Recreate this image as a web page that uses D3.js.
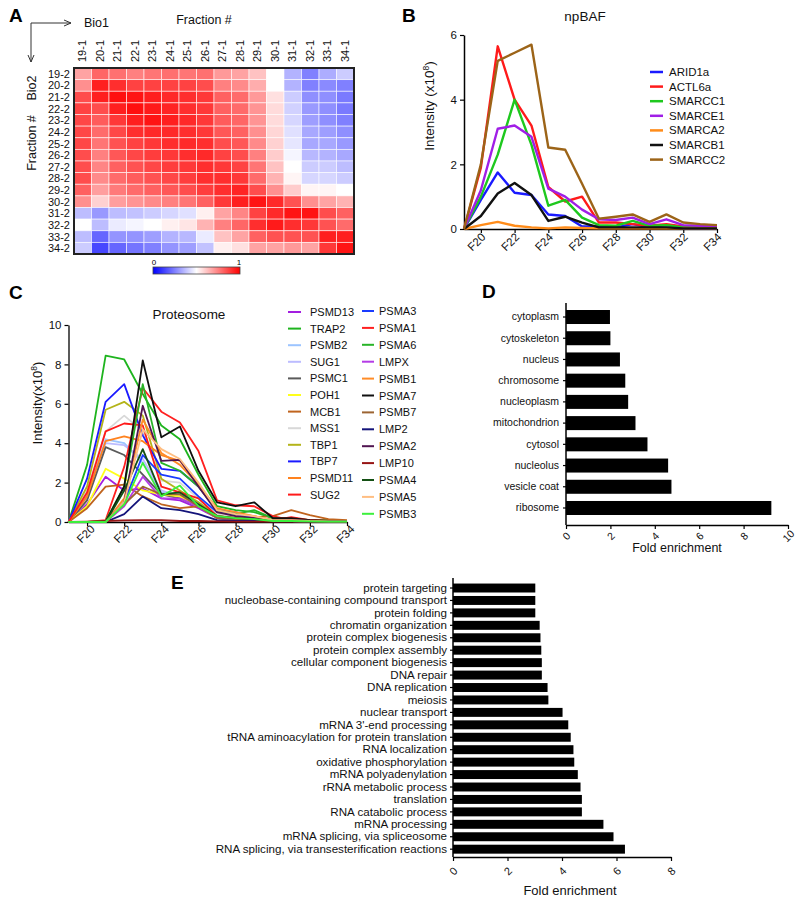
<!DOCTYPE html>
<html><head><meta charset="utf-8">
<script src="https://cdn.jsdelivr.net/npm/d3@7"></script>
<style>
body{margin:0;background:#fff}
svg{font-family:"Liberation Sans",Arial,Helvetica,sans-serif}
</style></head><body>
<svg id="fig" width="800" height="903"></svg>
<script>
// ---------- DATA ----------
const heatCols = ["19-1","20-1","21-1","22-1","23-1","24-1","25-1","26-1","27-1","28-1","29-1","30-1","31-1","32-1","33-1","34-1"];
const heatRows = ["19-2","20-2","21-2","22-2","23-2","24-2","25-2","26-2","27-2","28-2","29-2","30-2","31-2","32-2","33-2","34-2"];
const heatValues = [
 [0.68,0.80,0.78,0.75,0.77,0.78,0.77,0.78,0.70,0.68,0.62,0.50,0.35,0.25,0.34,0.40],
 [0.72,0.94,0.91,0.87,0.87,0.87,0.87,0.85,0.75,0.73,0.66,0.50,0.35,0.25,0.27,0.25],
 [0.85,0.94,0.97,0.96,0.94,0.92,0.91,0.89,0.81,0.79,0.70,0.56,0.40,0.28,0.28,0.24],
 [0.87,0.85,0.94,0.97,0.95,0.93,0.91,0.89,0.81,0.79,0.71,0.57,0.41,0.30,0.28,0.24],
 [0.86,0.82,0.89,0.94,0.96,0.94,0.92,0.89,0.82,0.80,0.71,0.57,0.42,0.31,0.28,0.25],
 [0.86,0.79,0.86,0.91,0.92,0.92,0.91,0.89,0.83,0.81,0.72,0.58,0.44,0.33,0.31,0.28],
 [0.86,0.77,0.84,0.87,0.89,0.91,0.92,0.91,0.85,0.83,0.73,0.59,0.45,0.33,0.33,0.30],
 [0.85,0.75,0.83,0.86,0.88,0.89,0.91,0.92,0.87,0.85,0.75,0.60,0.48,0.36,0.35,0.33],
 [0.85,0.74,0.81,0.84,0.86,0.88,0.89,0.91,0.89,0.87,0.77,0.62,0.50,0.40,0.40,0.37],
 [0.85,0.73,0.79,0.82,0.84,0.86,0.88,0.91,0.91,0.89,0.79,0.65,0.52,0.42,0.42,0.40],
 [0.81,0.69,0.76,0.79,0.81,0.83,0.85,0.88,0.91,0.93,0.85,0.72,0.60,0.52,0.52,0.50],
 [0.72,0.59,0.69,0.71,0.73,0.75,0.77,0.81,0.89,0.94,0.96,0.92,0.84,0.72,0.68,0.65],
 [0.37,0.30,0.37,0.38,0.40,0.42,0.44,0.53,0.68,0.74,0.87,0.92,0.96,0.96,0.85,0.81],
 [0.50,0.37,0.46,0.48,0.50,0.53,0.55,0.65,0.75,0.80,0.91,0.95,0.91,0.89,0.84,0.79],
 [0.37,0.20,0.29,0.29,0.31,0.35,0.36,0.46,0.62,0.68,0.81,0.84,0.84,0.84,0.94,0.94],
 [0.40,0.14,0.20,0.23,0.25,0.29,0.31,0.38,0.53,0.56,0.68,0.68,0.70,0.68,0.89,0.96]
];

const fractions = [19,20,21,22,23,24,25,26,27,28,29,30,31,32,33,34];
const fracTicks = [20,22,24,26,28,30,32,34];

const bafNames = ["ARID1a","ACTL6a","SMARCC1","SMARCE1","SMARCA2","SMARCB1","SMARCC2"];
const bafValues = [
 [0,0.90,1.75,1.12,1.05,0.45,0.40,0.08,0.08,0.05,0.15,0.05,0.12,0.02,0.02,0.02],
 [0,1.90,5.65,4.00,3.20,1.30,0.85,1.00,0.20,0.20,0.15,0.10,0.15,0.08,0.08,0.08],
 [0,1.00,2.30,4.00,2.60,0.72,0.90,0.35,0.12,0.10,0.25,0.10,0.12,0.05,0.05,0.05],
 [0,1.20,3.10,3.20,2.85,1.25,1.00,0.60,0.30,0.28,0.35,0.15,0.30,0.12,0.10,0.10],
 [0,0.12,0.22,0.10,0.05,0.02,0.05,0.03,0.02,0.02,0.02,0.02,0.02,0.02,0.02,0.02],
 [0,0.40,1.10,1.42,1.05,0.25,0.38,0.20,0.05,0.05,0.05,0.05,0.05,0.02,0.02,0.02],
 [0,2.00,5.20,5.45,5.70,2.52,2.45,1.40,0.32,0.38,0.45,0.22,0.45,0.20,0.15,0.12]
];
const bafTicks = [0,2,4,6];

const protNames = ["PSMD13","TRAP2","PSMB2","SUG1","PSMC1","POH1","MCB1","MSS1","TBP1","TBP7","PSMD11","SUG2",
 "PSMA3","PSMA1","PSMA6","LMPX","PSMB1","PSMA7","PSMB7","LMP2","PSMA2","LMP10","PSMA4","PSMA5","PSMB3"];
const protValues = [
 [0,0.9,2.3,1.6,1.7,1.2,1.1,0.7,0.2,0.15,0.1,0.05,0.05,0.03,0.02,0.02],
 [0,2.9,8.45,8.25,6.5,4.9,4.2,2.4,0.8,0.6,0.5,0.2,0.2,0.1,0.1,0.05],
 [0,1.4,4.2,4.0,3.0,1.5,1.4,1.0,0.3,0.2,0.1,0.05,0.05,0.03,0.02,0.02],
 [0,1.2,4.0,3.9,3.2,1.6,1.3,0.9,0.3,0.2,0.1,0.05,0.05,0.03,0.02,0.02],
 [0,1.1,3.8,3.4,2.4,1.4,1.2,0.8,0.2,0.15,0.1,0.05,0.05,0.03,0.02,0.02],
 [0,0.8,2.7,2.2,1.6,1.4,1.3,0.8,0.2,0.15,0.1,0.05,0.05,0.03,0.02,0.02],
 [0,0.7,1.8,1.9,1.3,0.9,0.7,0.8,0.4,0.3,0.25,0.3,0.6,0.35,0.15,0.1],
 [0,1.6,4.6,5.4,4.6,2.1,2.0,1.2,0.4,0.3,0.2,0.1,0.1,0.05,0.03,0.02],
 [0,1.8,5.7,6.1,5.4,2.2,1.6,1.0,0.3,0.2,0.1,0.05,0.05,0.03,0.02,0.02],
 [0,2.2,6.1,7.0,4.4,2.7,2.6,1.8,0.6,0.5,0.2,0.1,0.1,0.05,0.03,0.03],
 [0,1.3,4.1,4.35,4.1,3.4,3.1,1.9,0.6,0.4,0.3,0.1,0.1,0.05,0.03,0.03],
 [0,1.5,4.6,5.0,4.9,1.8,1.5,1.2,0.3,0.2,0.15,0.1,0.25,0.1,0.05,0.05],
 [0,0,0,1.0,3.4,2.4,2.2,1.3,0.5,0.4,0.2,0.1,0.1,0.05,0.03,0.03],
 [0,0,0.1,2.8,6.8,5.6,5.05,3.6,1.1,0.85,0.8,0.3,0.1,0.1,0.05,0.05],
 [0,0,0.05,1.8,7.0,3.0,2.6,1.8,0.6,0.4,0.6,0.2,0.1,0.05,0.05,0.05],
 [0,0,0,0.8,2.3,1.2,1.2,0.8,0.2,0.15,0.1,0.05,0.05,0.03,0.02,0.02],
 [0,0,0,1.2,5.2,3.5,2.9,1.9,0.7,0.5,0.3,0.1,0.1,0.05,0.03,0.03],
 [0,0,0,1.8,8.2,4.3,4.85,2.6,1.0,0.8,1.0,0.2,0.2,0.1,0.05,0.05],
 [0,0,0,0.9,1.8,1.4,1.4,0.8,0.2,0.15,0.1,0.05,0.05,0.03,0.02,0.02],
 [0,0,0,0.4,1.3,0.7,0.6,0.4,0.1,0.05,0.05,0.03,0.03,0.02,0.02,0.02],
 [0,0,0,1.0,5.9,3.1,3.15,1.8,0.5,0.3,0.2,0.1,0.1,0.05,0.03,0.03],
 [0,0.02,0.05,0.08,0.1,0.1,0.05,0.05,0.03,0.02,0.02,0.02,0.02,0.02,0.02,0.02],
 [0,0,0,1.6,3.7,1.4,1.5,0.9,0.3,0.2,0.15,0.1,0.05,0.03,0.02,0.02],
 [0,0,0,1.0,4.7,3.7,3.2,2.0,0.6,0.4,0.3,0.1,0.1,0.05,0.03,0.03],
 [0,0,0,0.9,3.0,1.3,1.85,0.8,0.3,0.2,0.15,0.05,0.05,0.03,0.02,0.02]
];
const protTicks = [0,2,4,6,8,10];

const ccCats = ["cytoplasm","cytoskeleton","nucleus","chromosome","nucleoplasm","mitochondrion","cytosol","nucleolus","vesicle coat","ribosome"];
const ccValues = [1.98,2.0,2.43,2.67,2.8,3.13,3.67,4.6,4.75,9.25];
const ccTicks = [0,2,4,6,8,10];

const bpCats = ["protein targeting","nucleobase-containing compound transport","protein folding","chromatin organization",
 "protein complex biogenesis","protein complex assembly","cellular component biogenesis","DNA repair","DNA replication",
 "meiosis","nuclear transport","mRNA 3'-end processing","tRNA aminoacylation for protein translation","RNA localization",
 "oxidative phosphorylation","mRNA polyadenylation","rRNA metabolic process","translation","RNA catabolic process",
 "mRNA processing","mRNA splicing, via spliceosome","RNA splicing, via transesterification reactions"];
const bpValues = [3.02,3.02,3.02,3.18,3.21,3.24,3.26,3.26,3.47,3.5,4.02,4.23,4.32,4.42,4.45,4.58,4.68,4.73,4.73,5.52,5.89,6.31];
const bpTicks = [0,2,4,6,8];

// ---------- STYLES ----------
const bafColors = ["#1a1aff","#ff1a1a","#1ec81e","#a01ee6","#ff8c1a","#111111","#9c6418"];
const protColors = ["#a31ee0","#1eb41e","#9cc4ff","#bcbcff","#5a5a5a","#ffff1a","#c0641e","#d8d8d8","#b4b41a","#1a1aff","#ff821e","#ff1a1a",
 "#1a3cff","#ff2020","#28b428","#b43ce6","#ff8c28","#101010","#9c6432","#14147a","#501450","#961414","#145014","#ffbe82","#3cf03c"];

const svg = d3.select("#fig");

function panelLabel(t,x,y){
  svg.append("text").attr("x",x).attr("y",y).attr("font-size",19).attr("font-weight","bold").text(t);
}
function styleAxis(g,w){
  g.select(".domain").attr("stroke","#000").attr("stroke-width",w||1.5);
  g.selectAll(".tick line").attr("stroke","#000").attr("stroke-width",1.2);
  g.selectAll("text").attr("fill","#111");
}
function rotLabels(g,dx,dy,fs){
  g.selectAll(".tick text").attr("x",0).attr("y",0).attr("dy","0.35em").attr("text-anchor","middle")
   .attr("font-size",fs).attr("transform",`translate(${dx},${dy}) rotate(-45)`);
}

// ---------- PANEL A ----------
panelLabel("A",9,22);
{
  const x = d3.scaleBand().domain(heatCols).range([74,354]);
  const y = d3.scaleBand().domain(heatRows).range([68,254]);
  const col = d3.scaleLinear().domain([0,0.5,1]).range(["#0000ff","#ffffff","#ff0000"]);
  const g = svg.append("g");
  heatRows.forEach((r,i)=>{
    heatCols.forEach((c,j)=>{
      g.append("rect").attr("x",x(c)).attr("y",y(r)).attr("width",x.bandwidth()).attr("height",y.bandwidth())
       .attr("fill",col(heatValues[i][j])).attr("stroke","rgba(255,255,255,0.7)").attr("stroke-width",0.8);
    });
  });
  g.append("rect").attr("x",74).attr("y",68).attr("width",280).attr("height",186)
   .attr("fill","none").attr("stroke","#222").attr("stroke-width",2);
  heatCols.forEach(c=>{
    svg.append("text").attr("transform",`translate(${x(c)+x.bandwidth()/2+3.7},62) rotate(-90)`)
     .attr("text-anchor","start").attr("font-size",11).attr("fill","#111").text(c);
  });
  heatRows.forEach(r=>{
    svg.append("text").attr("x",70).attr("y",y(r)+y.bandwidth()/2+4).attr("text-anchor","end")
     .attr("font-size",11).attr("fill","#111").text(r);
  });
  const ar = svg.append("g").attr("stroke","#333").attr("stroke-width",1).attr("fill","none");
  ar.append("path").attr("d","M31,23H71M64,20L71,23L64,26");
  ar.append("path").attr("d","M31,23V62M28,55L31,62L34,55");
  svg.append("text").attr("x",84).attr("y",27).attr("font-size",12.5).attr("fill","#111").text("Bio1");
  svg.append("text").attr("x",204).attr("y",24).attr("text-anchor","middle").attr("font-size",12.5).attr("fill","#111").text("Fraction #");
  svg.append("text").attr("transform","translate(36,88) rotate(-90)").attr("text-anchor","middle").attr("font-size",12.5).attr("fill","#111").text("Bio2");
  svg.append("text").attr("transform","translate(36,143) rotate(-90)").attr("text-anchor","middle").attr("font-size",12.5).attr("fill","#111").text("Fraction #");
  const defs = svg.append("defs");
  const gr = defs.append("linearGradient").attr("id","cbar");
  [0,0.25,0.5,0.75,1].forEach(v=>gr.append("stop").attr("offset",v).attr("stop-color",col(v)));
  svg.append("rect").attr("x",153).attr("y",267).attr("width",87).attr("height",7).attr("fill","url(#cbar)")
   .attr("stroke","#444").attr("stroke-width",0.8);
  svg.append("text").attr("x",154).attr("y",265).attr("text-anchor","middle").attr("font-size",8).text("0");
  svg.append("text").attr("x",239).attr("y",265).attr("text-anchor","middle").attr("font-size",8).text("1");
}

// ---------- PANEL B ----------
panelLabel("B",402,22);
{
  const x = d3.scaleLinear().domain([19,34]).range([464,717]);
  const y = d3.scaleLinear().domain([0,6]).range([229,35]);
  svg.append("text").attr("x",585).attr("y",21).attr("text-anchor","middle").attr("font-size",13.5).attr("fill","#111").text("npBAF");
  const gy = svg.append("g").attr("transform","translate(464,0)")
    .call(d3.axisLeft(y).tickValues(bafTicks).tickSize(4).tickSizeOuter(0).tickFormat(d3.format("d")));
  styleAxis(gy); gy.selectAll("text").attr("font-size",11.5);
  const gx = svg.append("g").attr("transform","translate(0,229)")
    .call(d3.axisBottom(x).tickValues(fracTicks).tickSize(4).tickSizeOuter(0).tickFormat(d=>"F"+d));
  styleAxis(gx); rotLabels(gx,-5,13,11.5);
  const yl = svg.append("text").attr("transform","translate(434,106) rotate(-90)").attr("text-anchor","middle")
    .attr("font-size",13.5).attr("fill","#111");
  yl.append("tspan").text("Intensity (x10");
  yl.append("tspan").attr("font-size",8.5).attr("dy",-5).text("8");
  yl.append("tspan").attr("dy",5).text(")");
  const line = d3.line().x((d,i)=>x(fractions[i])).y(d=>y(d));
  bafValues.forEach((vals,k)=>{
    svg.append("path").attr("d",line(vals)).attr("fill","none").attr("stroke",bafColors[k])
     .attr("stroke-width",2.4).attr("stroke-linejoin","round");
  });
  bafNames.forEach((n,k)=>{
    const yy = 72 + k*14.6;
    svg.append("line").attr("x1",650).attr("x2",663).attr("y1",yy).attr("y2",yy).attr("stroke",bafColors[k]).attr("stroke-width",2.5);
    svg.append("text").attr("x",669).attr("y",yy+4).attr("font-size",11.5).attr("fill","#111").text(n);
  });
}

// ---------- PANEL C ----------
panelLabel("C",9,299);
{
  const x = d3.scaleLinear().domain([19,34]).range([68.5,347]);
  const y = d3.scaleLinear().domain([0,10]).range([522,325]);
  svg.append("text").attr("x",189).attr("y",319).attr("text-anchor","middle").attr("font-size",13.5).attr("fill","#111").text("Proteosome");
  const gy = svg.append("g").attr("transform","translate(68.5,0)")
    .call(d3.axisLeft(y).tickValues(protTicks).tickSize(4).tickSizeOuter(0).tickFormat(d3.format("d")));
  styleAxis(gy,1.3); gy.selectAll("text").attr("font-size",11.5);
  const gx = svg.append("g").attr("transform","translate(0,522)")
    .call(d3.axisBottom(x).tickValues(fracTicks).tickSize(4).tickSizeOuter(0).tickFormat(d=>"F"+d));
  styleAxis(gx,1.3); rotLabels(gx,-2,12,11.5);
  const yl = svg.append("text").attr("transform","translate(42,403) rotate(-90)").attr("text-anchor","middle")
    .attr("font-size",13).attr("fill","#111");
  yl.append("tspan").text("Intensity(x10");
  yl.append("tspan").attr("font-size",8.5).attr("dy",-5).text("8");
  yl.append("tspan").attr("dy",5).text(")");
  const line = d3.line().x((d,i)=>x(fractions[i])).y(d=>y(d));
  protValues.forEach((vals,k)=>{
    svg.append("path").attr("d",line(vals)).attr("fill","none").attr("stroke",protColors[k])
     .attr("stroke-width",1.8).attr("stroke-linejoin","round");
  });
  protNames.forEach((n,k)=>{
    let lx1,lx2,tx,yy;
    if(k<12){ lx1=288; lx2=301; tx=310; yy=312+k*16.6; }
    else { lx1=362; lx2=374; tx=379; yy=311+(k-12)*16.9; }
    svg.append("line").attr("x1",lx1).attr("x2",lx2).attr("y1",yy).attr("y2",yy).attr("stroke",protColors[k]).attr("stroke-width",2);
    svg.append("text").attr("x",tx).attr("y",yy+4).attr("font-size",11).attr("fill","#111").text(n);
  });
}

// ---------- PANEL D ----------
panelLabel("D",482,298);
{
  const x = d3.scaleLinear().domain([0,10]).range([566,788]);
  const y = d3.scaleBand().domain(ccCats).range([306.4,518.6]).paddingInner(0.34).paddingOuter(0.17);
  svg.append("g").selectAll("rect").data(ccCats).join("rect")
    .attr("x",x(0)).attr("y",d=>y(d)).attr("height",y.bandwidth())
    .attr("width",(d,i)=>x(ccValues[i])-x(0)).attr("fill","#000");
  const gy = svg.append("g").attr("transform","translate(566,0)")
    .call(d3.axisLeft(y).tickSize(3).tickSizeOuter(0));
  gy.select(".domain").attr("d","M0,303V525");
  styleAxis(gy,1.5); gy.selectAll("text").attr("font-size",10.5).attr("x",-7);
  const gx = svg.append("g").attr("transform","translate(0,525)")
    .call(d3.axisBottom(x).tickValues(ccTicks).tickSize(4).tickSizeOuter(0));
  styleAxis(gx,1.5); rotLabels(gx,0,11,10.5);
  svg.append("text").attr("x",677).attr("y",552).attr("text-anchor","middle").attr("font-size",12.5).attr("fill","#111").text("Fold enrichment");
}

// ---------- PANEL E ----------
panelLabel("E",171,589);
{
  const x = d3.scaleLinear().domain([0,8]).range([453,671]);
  const y = d3.scaleBand().domain(bpCats).range([581.8,855.4]).paddingInner(0.28).paddingOuter(0.14);
  svg.append("g").selectAll("rect").data(bpCats).join("rect")
    .attr("x",x(0)).attr("y",d=>y(d)).attr("height",y.bandwidth())
    .attr("width",(d,i)=>x(bpValues[i])-x(0)).attr("fill","#000");
  const gy = svg.append("g").attr("transform","translate(453,0)")
    .call(d3.axisLeft(y).tickSize(3).tickSizeOuter(0));
  gy.select(".domain").attr("d","M0,578V857");
  styleAxis(gy,1.5); gy.selectAll("text").attr("font-size",11.6).attr("x",-6);
  const gx = svg.append("g").attr("transform","translate(0,857)")
    .call(d3.axisBottom(x).tickValues(bpTicks).tickSize(4).tickSizeOuter(0));
  styleAxis(gx,1.5); rotLabels(gx,0,14,11);
  svg.append("text").attr("x",570).attr("y",895).attr("text-anchor","middle").attr("font-size",13).attr("fill","#111").text("Fold enrichment");
}
</script></body></html>
